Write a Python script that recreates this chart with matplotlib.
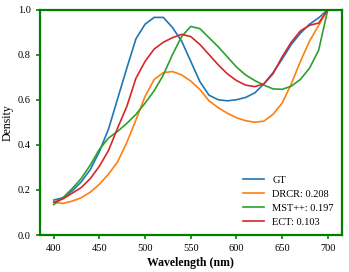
import matplotlib
matplotlib.use("Agg")
import matplotlib.pyplot as plt
import numpy as np

wavelength = list(range(400, 701, 10))
gt = [0.155, 0.165, 0.195, 0.235, 0.29, 0.37, 0.47, 0.605, 0.74, 0.87, 0.935, 0.965, 0.965, 0.92, 0.86, 0.77,
      0.68, 0.62, 0.60, 0.595, 0.60, 0.61, 0.63, 0.67, 0.72, 0.78, 0.845, 0.895, 0.935, 0.963, 1.0]
drcr = [0.145, 0.14, 0.15, 0.165, 0.19, 0.225, 0.27, 0.325, 0.41, 0.51, 0.615, 0.69, 0.72, 0.725, 0.71, 0.683,
        0.645, 0.595, 0.565, 0.54, 0.52, 0.507, 0.50, 0.505, 0.535, 0.585, 0.67, 0.77, 0.86, 0.93, 1.0]
mst = [0.135, 0.165, 0.205, 0.25, 0.31, 0.38, 0.43, 0.46, 0.495, 0.535, 0.585, 0.64, 0.71, 0.80, 0.88, 0.925,
       0.915, 0.875, 0.835, 0.79, 0.745, 0.71, 0.685, 0.665, 0.648, 0.646, 0.66, 0.69, 0.74, 0.82, 1.0]
ect = [0.145, 0.16, 0.185, 0.21, 0.25, 0.305, 0.375, 0.475, 0.57, 0.695, 0.77, 0.825, 0.855, 0.875, 0.89, 0.88,
       0.845, 0.80, 0.755, 0.715, 0.685, 0.665, 0.658, 0.67, 0.715, 0.79, 0.855, 0.905, 0.93, 0.94, 1.0]
labels = ["GT", "DRCR: 0.208", "MST++: 0.197", "ECT: 0.103"]
colors = ["#1f77b4", "#ff7f0e", "#2ca02c", "#d62728"]

plt.rcParams['font.family'] = ['Liberation Serif', 'DejaVu Serif']

fig = plt.figure(figsize=(3.49, 2.72), dpi=100)
ax = fig.add_axes([0.1146, 0.136, 0.864, 0.829])
for s, lab, c in zip([gt, drcr, mst, ect], labels, colors):
    ax.plot(wavelength, s, color=c, lw=1.2, label=lab)

ax.set_xlim(385, 715)
ax.set_ylim(0, 1.0)
ax.set_xticks([400, 450, 500, 550, 600, 650, 700])
ax.set_yticks([0.0, 0.2, 0.4, 0.6, 0.8, 1.0])
for sp in ax.spines.values():
    sp.set_color('green')
    sp.set_linewidth(1.6)
ax.tick_params(colors='green', labelcolor='black', labelsize=7.5, length=3, width=1.2)
ax.set_xlabel("Wavelength (nm)", fontsize=8.5, fontweight='bold', labelpad=3)
ax.set_ylabel("Density", fontsize=8.5, labelpad=3)
ax.legend(loc='lower right', frameon=False, fontsize=7.5, handlelength=2.0,
          labelspacing=0.45, bbox_to_anchor=(1.005, -0.005))
fig.savefig("out.png", dpi=100)
